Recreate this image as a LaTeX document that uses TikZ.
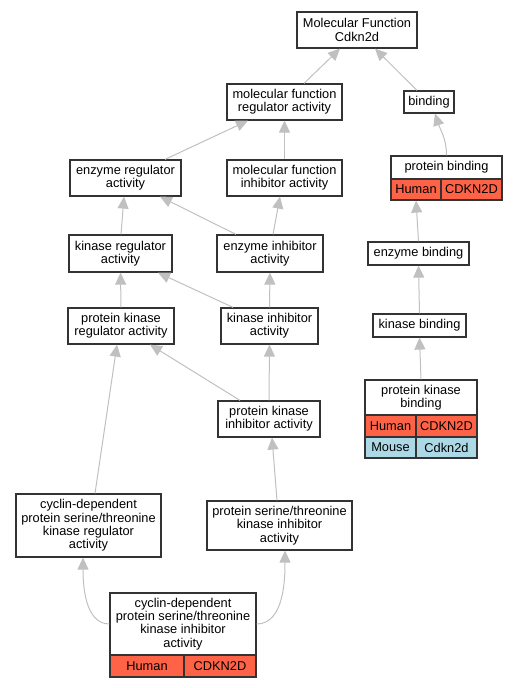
\documentclass[tikz,border=0pt]{standalone}
\usepackage{fontspec}
\setmainfont{Liberation Sans}
\usetikzlibrary{arrows.meta}
\definecolor{tomatoc}{HTML}{FF6347}
\definecolor{lblue}{HTML}{ADD8E6}
\definecolor{edgec}{HTML}{C0C0C0}
\definecolor{bordc}{HTML}{333333}
\begin{document}
\begin{tikzpicture}[x=1pt,y=-1pt,
  box/.style={draw=bordc,line width=1.2pt,fill=white,inner sep=0pt,align=center,
    font=\fontsize{12.8}{13.3}\selectfont},
  cell/.style={box,font=\fontsize{12.8}{13.3}\selectfont},
  hum/.style={cell,fill=tomatoc},
  mou/.style={cell,fill=lblue},
  edge/.style={draw=edgec,line width=1pt,-{Triangle[length=12pt,width=11pt,fill=edgec,color=edgec]}}]
\useasboundingbox (0,0) rectangle (519,688);
% nodes
\node[box,minimum width=120pt,minimum height=36pt] (mf) at (357,30) {Molecular Function\\Cdkn2d};
\node[box,minimum width=115pt,minimum height=36pt] (mfra) at (284.5,102) {molecular function\\regulator activity};
\node[box,minimum width=50pt,minimum height=22pt] (bind) at (429,102) {binding};
\node[box,minimum width=111pt,minimum height=36pt] (era) at (125.5,178) {enzyme regulator\\activity};
\node[box,minimum width=115pt,minimum height=36pt] (mfia) at (284.5,178) {molecular function\\inhibitor activity};
\node[box,minimum width=111pt,minimum height=23pt] (pb) at (446.5,167.5) {protein binding};
\node[hum,minimum width=50pt,minimum height=21pt] (pbh) at (416,189.5) {Human};
\node[hum,minimum width=61pt,minimum height=21pt] (pbg) at (471.5,189.5) {CDKN2D};
\node[box,minimum width=103pt,minimum height=37pt] (kra) at (120.5,253.5) {kinase regulator\\activity};
\node[box,minimum width=106pt,minimum height=37pt] (eia) at (270,253.5) {enzyme inhibitor\\activity};
\node[box,minimum width=101pt,minimum height=23pt] (eb) at (418.5,253.5) {enzyme binding};
\node[box,minimum width=106pt,minimum height=36pt] (pkra) at (121,326) {protein kinase\\regulator activity};
\node[box,minimum width=97pt,minimum height=36pt] (kia) at (269.5,326) {kinase inhibitor\\activity};
\node[box,minimum width=93pt,minimum height=23pt] (kb) at (419.5,325.5) {kinase binding};
\node[box,minimum width=102pt,minimum height=36pt] (pkia) at (269,419) {protein kinase\\inhibitor activity};
\node[box,minimum width=112pt,minimum height=35pt] (pkb) at (421,397.5) {protein kinase\\binding};
\node[hum,minimum width=51pt,minimum height=22pt] (pkbh) at (390.5,426) {Human};
\node[hum,minimum width=61pt,minimum height=22pt] (pkbg) at (446.5,426) {CDKN2D};
\node[mou,minimum width=51pt,minimum height=21pt] (pkbm) at (390.5,447.5) {Mouse};
\node[mou,minimum width=61pt,minimum height=21pt] (pkbmg) at (446.5,447.5) {Cdkn2d};
\node[box,minimum width=145pt,minimum height=63pt] (cdkra) at (88.5,525.5) {cyclin-dependent\\protein serine/threonine\\kinase regulator\\activity};
\node[box,minimum width=145pt,minimum height=49pt] (pstkia) at (279.5,525.5) {protein serine/threonine\\kinase inhibitor\\activity};
\node[box,minimum width=146pt,minimum height=62pt] (cdkia) at (183,624) {cyclin-dependent\\protein serine/threonine\\kinase inhibitor\\activity};
\node[hum,minimum width=74pt,minimum height=22pt] (cdkiah) at (147,666) {Human};
\node[hum,minimum width=72pt,minimum height=22pt] (cdkiag) at (220,666) {CDKN2D};
% edges
\draw[edge] ([xshift=19.5pt]mfra.north) -- ([xshift=-17pt]mf.south);
\draw[edge] ([xshift=-12pt]bind.north) -- ([xshift=18pt]mf.south);
\draw[edge] ([xshift=39.5pt]era.north) -- ([xshift=-36.5pt]mfra.south);
\draw[edge] (mfia.north) -- (mfra.south);
\draw[edge] (pb.north) to[out=90,in=-72] ([xshift=6pt]bind.south);
\draw[edge] ([xshift=0.5pt]kra.north) -- ([xshift=-1.5pt]era.south);
\draw[edge] ([xshift=-34pt]eia.north) -- ([xshift=34.5pt]era.south);
\draw[edge] ([xshift=3pt]eia.north) -- ([xshift=-4.5pt]mfia.south);
\draw[edge] (eb.north) -- (pbh.south);
\draw[edge] (pkra.north) -- (kra.south);
\draw[edge] ([xshift=-36.5pt]kia.north) -- ([xshift=37.5pt]kra.south);
\draw[edge] (kia.north) -- (eia.south);
\draw[edge] (kb.north) -- (eb.south);
\draw[edge] ([xshift=-29pt]pkia.north) -- ([xshift=29pt]pkra.south);
\draw[edge] (pkia.north) -- (kia.south);
\draw[edge] (pkb.north) -- (kb.south);
\draw[edge] ([xshift=6.5pt]cdkra.north) -- ([xshift=-4pt]pkra.south);
\draw[edge] ([xshift=-2.5pt]pstkia.north) -- ([xshift=3pt]pkia.south);
\draw[edge] (cdkia.west) to[out=180,in=-90,looseness=0.9] ([xshift=-5.5pt]cdkra.south);
\draw[edge] (cdkia.east) to[out=0,in=-90,looseness=0.9] ([xshift=5.5pt]pstkia.south);
\end{tikzpicture}
\end{document}
